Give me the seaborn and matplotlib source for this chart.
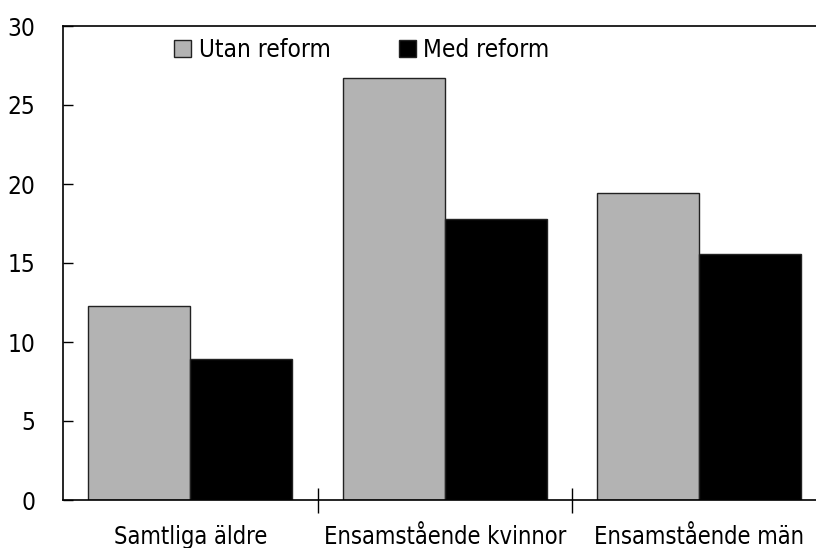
import pandas as pd
from matplotlib import pyplot as plt
import seaborn as sns

categories = ['Samtliga äldre', 'Ensamstående kvinnor', 'Ensamstående män']
utan_reform = [12.3, 26.7, 19.4]
med_reform = [8.9, 17.8, 15.6]
series = ['Utan reform', 'Med reform']

data = pd.DataFrame({
    'kategori': categories * 2,
    'serie': [series[0]] * 3 + [series[1]] * 3,
    'varde': utan_reform + med_reform,
})

sns.set_style('white')
plt.rcParams['font.family'] = ['DejaVu Sans']
plt.rcParams['font.stretch'] = 'condensed'
plt.rcParams['text.color'] = 'black'
plt.rcParams['xtick.color'] = 'black'
plt.rcParams['ytick.color'] = 'black'

fig = plt.figure(figsize=(8.16, 5.48), dpi=100)
# right edge of the frame sits just outside the picture, as in the original
ax = fig.add_axes([63 / 816, 48 / 548, (826.5 - 63) / 816, 474 / 548])

sns.barplot(data=data, x='kategori', y='varde', hue='serie',
            palette=['#b3b3b3', '#000000'], width=0.8,
            edgecolor='#222222', linewidth=1, saturation=1, ax=ax)

ax.set_ylim(0, 30)
ax.set_xlim(-0.5, 2.5)
ax.set_yticks(range(0, 31, 5))
ax.set_xlabel('')
ax.set_ylabel('')

for s in ax.spines.values():
    s.set_color('black')
    s.set_linewidth(1.2)

ax.tick_params(axis='y', direction='in', length=7, width=1, pad=20,
               labelsize=17.5, left=True)
ax.tick_params(axis='x', which='major', length=0, pad=18, labelsize=17)
ax.set_xticks([0.5, 1.5], minor=True)
ax.tick_params(axis='x', which='minor', direction='inout', length=18,
               width=1, bottom=True)

ax.legend(loc='upper left', bbox_to_anchor=(0.13, 1.0), ncol=2,
          frameon=False, fontsize=17.5, handlelength=0.7, handleheight=0.7,
          handletextpad=0.3, columnspacing=2.8, borderaxespad=0.1)

fig.savefig('out.png', dpi=100)
